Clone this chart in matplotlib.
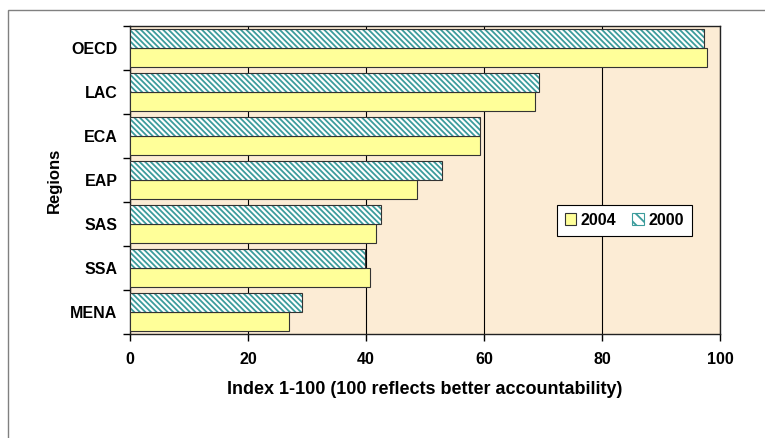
import matplotlib.pyplot as plt
import matplotlib.patches as mpatches
import numpy as np

plt.rcParams['font.family'] = ['Liberation Sans', 'DejaVu Sans']
plt.rcParams['font.weight'] = 'bold'
plt.rcParams['hatch.linewidth'] = 1.3

regions = ['MENA', 'SSA', 'SAS', 'EAP', 'ECA', 'LAC', 'OECD']
v2004 = [26.9, 40.6, 41.7, 48.6, 59.3, 68.7, 97.8]
v2000 = [29.2, 39.9, 42.6, 52.9, 59.3, 69.4, 97.3]

teal = '#3c9c9c'

fig = plt.figure(figsize=(7.65, 4.38), dpi=100)
# outer chart border
fig.patches.append(mpatches.Rectangle((8 / 765, -0.1), 1.2, 1 - 10 / 438 + 0.1,
                                      transform=fig.transFigure, fill=False,
                                      edgecolor='#808080', linewidth=1.0))
ax = fig.add_axes([130 / 765, 1 - 334 / 438, 590 / 765, 308 / 438])
ax.set_facecolor('#fcecd5')

y = np.arange(len(regions))
h = 0.44
ax.barh(y - h / 2, v2004, height=h, color='#ffff99', edgecolor='#333333',
        linewidth=0.8, zorder=3)
# hatched bars: hatch in teal, outline drawn separately
ax.barh(y + h / 2, v2000, height=h, color='white', edgecolor=teal,
        hatch='\\\\\\\\\\\\', linewidth=0, zorder=3)
ax.barh(y + h / 2, v2000, height=h, fill=False, edgecolor='#333333',
        linewidth=0.8, zorder=4)

ax.set_xlim(0, 100)
ax.set_ylim(-0.5, len(regions) - 0.5)
ax.set_xticks(range(0, 101, 20))
ax.set_yticks(y)
ax.set_yticklabels(regions)
ax.set_yticks(np.arange(-0.5, len(regions), 1), minor=True)
ax.tick_params(axis='y', which='major', length=0, pad=9, labelsize=11.5)
ax.tick_params(axis='y', which='minor', length=5, width=1.0)
ax.tick_params(axis='x', length=5, width=1.0, labelsize=11.5, pad=8)
ax.xaxis.grid(True, color='black', linewidth=0.8, zorder=1)
for s in ax.spines.values():
    s.set_linewidth(1.0)
    s.set_color('#222222')

ax.set_xlabel('Index 1-100 (100 reflects better accountability)', fontsize=13,
              fontweight='bold', labelpad=10)
ax.set_ylabel('Regions', fontsize=12, fontweight='bold', labelpad=6)

p2004 = mpatches.Patch(facecolor='#ffff99', edgecolor='#333333', linewidth=0.8,
                       label='2004')
p2000 = mpatches.Patch(facecolor='white', edgecolor=teal, hatch='\\\\\\',
                       linewidth=0.8, label='2000')
leg = ax.legend(handles=[p2004, p2000], loc='center left',
                bbox_to_anchor=(0.71, 0.37), ncol=2,
                fontsize=11.5, frameon=True, fancybox=False, framealpha=1,
                edgecolor='black', handlelength=0.7, handleheight=0.7,
                handletextpad=0.3, columnspacing=1.0, borderpad=0.5)
leg.get_frame().set_linewidth(0.8)

fig.savefig('out.png', dpi=100)
